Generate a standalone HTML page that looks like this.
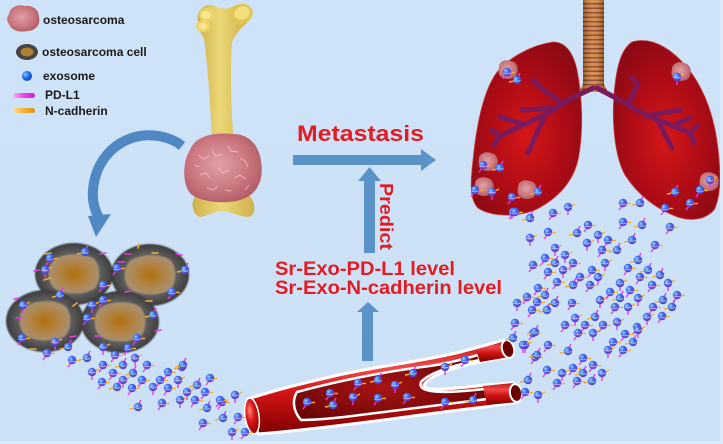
<!DOCTYPE html>
<html><head><meta charset="utf-8"><style>
html,body{margin:0;padding:0;background:#cde2f7;}
svg{display:block;}
</style></head><body>
<svg width="723" height="444" viewBox="0 0 723 444" xmlns="http://www.w3.org/2000/svg" xmlns:xlink="http://www.w3.org/1999/xlink">
<defs>
<linearGradient id="bg" x1="0" y1="0" x2="0" y2="1"><stop offset="0" stop-color="#cfe3f8"/><stop offset="1" stop-color="#cce1f6"/></linearGradient>
<radialGradient id="exg" cx="0.35" cy="0.35" r="0.75"><stop offset="0" stop-color="#a8d4ff"/><stop offset="0.4" stop-color="#3a6cf0"/><stop offset="1" stop-color="#6a2cb8"/></radialGradient>
<radialGradient id="exl" cx="0.35" cy="0.35" r="0.75"><stop offset="0" stop-color="#8fd0ff"/><stop offset="0.45" stop-color="#1f6ff5"/><stop offset="1" stop-color="#1d3ab0"/></radialGradient>
<g id="e"><line x1="2" y1="0.5" x2="8" y2="0.5" stroke="#f2b035" stroke-width="1.4"/><line x1="-1" y1="3" x2="-4" y2="7" stroke="#e23ee8" stroke-width="1.4"/><circle r="4.2" fill="url(#exg)"/><path d="M-3.5,1 Q0,2.6 3.5,1" stroke="#eab0f2" stroke-width="0.9" fill="none"/></g>
<g id="f"><line x1="-2" y1="1" x2="-8" y2="2" stroke="#f2b035" stroke-width="1.4"/><line x1="1" y1="-3" x2="3" y2="-7" stroke="#e23ee8" stroke-width="1.4"/><circle r="4.2" fill="url(#exg)"/><path d="M-3.5,0.5 Q0,2 3.5,0.5" stroke="#9ee0c0" stroke-width="0.9" fill="none"/></g>
<g id="g"><line x1="0" y1="3" x2="0" y2="8" stroke="#e23ee8" stroke-width="1.4"/><line x1="3" y1="-1" x2="7" y2="-3" stroke="#f2b035" stroke-width="1.4"/><circle r="4.2" fill="url(#exg)"/><path d="M-3.5,0 Q0,2 3.5,0" stroke="#f0c0f0" stroke-width="0.9" fill="none"/></g>
<radialGradient id="cellg" cx="0.5" cy="0.5" r="0.5"><stop offset="0" stop-color="#7a7a7a"/><stop offset="0.65" stop-color="#606060"/><stop offset="0.9" stop-color="#474747"/><stop offset="1" stop-color="#3a3a3a"/></radialGradient>
<radialGradient id="nucg" cx="0.5" cy="0.5" r="0.5"><stop offset="0" stop-color="#b0700c"/><stop offset="0.6" stop-color="#b08448"/><stop offset="1" stop-color="#a89070"/></radialGradient>
<filter id="soft" x="-10%" y="-10%" width="120%" height="120%"><feGaussianBlur stdDeviation="0.9"/></filter>
<g id="cell"><ellipse rx="39" ry="31" fill="url(#cellg)"/><path d="M-20,-14 C-10,-21 10,-22 20,-15 C27,-8 27,8 20,15 C10,21 -10,21 -20,14 C-27,7 -27,-7 -20,-14 Z" fill="url(#nucg)"/></g>
<linearGradient id="boneg" x1="0" y1="0" x2="1" y2="0"><stop offset="0" stop-color="#cdb04a"/><stop offset="0.45" stop-color="#ecd878"/><stop offset="1" stop-color="#cfb24c"/></linearGradient>
<radialGradient id="tumg" cx="0.45" cy="0.45" r="0.6"><stop offset="0" stop-color="#e0a0a6"/><stop offset="0.6" stop-color="#cc7880"/><stop offset="1" stop-color="#b05a66"/></radialGradient>
<radialGradient id="lg" cx="0.5" cy="0.55" r="0.6"><stop offset="0" stop-color="#d41818"/><stop offset="0.55" stop-color="#b00c16"/><stop offset="1" stop-color="#8c0a14"/></radialGradient>
<pattern id="tr" width="21" height="4.5" patternUnits="userSpaceOnUse"><rect width="21" height="4.5" fill="#d4843e"/><rect y="3" width="21" height="1.5" fill="#8e3c1e"/></pattern>
<linearGradient id="trs" x1="0" y1="0" x2="1" y2="0"><stop offset="0" stop-color="#000" stop-opacity="0.3"/><stop offset="0.5" stop-color="#fff" stop-opacity="0.1"/><stop offset="1" stop-color="#000" stop-opacity="0.3"/></linearGradient>
<linearGradient id="vg" x1="0" y1="0" x2="0" y2="1"><stop offset="0" stop-color="#c01818"/><stop offset="0.3" stop-color="#f04a4a"/><stop offset="0.55" stop-color="#d41515"/><stop offset="1" stop-color="#7e0000"/></linearGradient>
<radialGradient id="chg" cx="0.45" cy="0.5" r="0.6"><stop offset="0" stop-color="#a81414"/><stop offset="1" stop-color="#6a0404"/></radialGradient>
<radialGradient id="capg" cx="0.4" cy="0.35" r="0.7"><stop offset="0" stop-color="#ff8a8a"/><stop offset="0.4" stop-color="#e01a1a"/><stop offset="1" stop-color="#8a0000"/></radialGradient>
<linearGradient id="pd" x1="0" x2="1"><stop offset="0" stop-color="#ffb0ff"/><stop offset="0.5" stop-color="#f040f0"/><stop offset="1" stop-color="#d020d0"/></linearGradient>
<linearGradient id="nc" x1="0" x2="1"><stop offset="0" stop-color="#ffe0a0"/><stop offset="0.5" stop-color="#f5b030"/><stop offset="1" stop-color="#e09010"/></linearGradient>
<g id="nod"><path d="M-9,-3 C-9,-9 -2,-11 3,-9 C9,-8 11,-2 9,4 C7,9 0,10 -5,8 C-10,6 -10,1 -9,-3 Z" fill="url(#tumg)"/></g>
</defs>

<rect width="723" height="444" fill="url(#bg)"/>

<!-- Legend -->
<path d="M9,14 C10,7 18,4 25,6 C33,5 39,10 39,17 C41,25 35,31 27,31 C19,33 11,30 9,24 C6,20 7,17 9,14 Z" fill="url(#tumg)"/>
<ellipse cx="27" cy="52" rx="11" ry="8" fill="#444"/>
<ellipse cx="27" cy="52" rx="6.5" ry="4.5" fill="#b08030"/>
<circle cx="27" cy="76" r="5" fill="url(#exl)"/>
<rect x="13" y="93" width="22" height="5" rx="2.5" fill="url(#pd)"/>
<rect x="13" y="108" width="22" height="5" rx="2.5" fill="url(#nc)"/>
<g font-family="Liberation Sans, Arial, sans-serif" font-weight="bold" font-size="12" fill="#1a1a1a">
<text x="43" y="24">osteosarcoma</text>
<text x="42" y="56">osteosarcoma cell</text>
<text x="43" y="80">exosome</text>
<text x="45" y="99">PD-L1</text>
<text x="45" y="115">N-cadherin</text>
</g>

<!-- Bone -->
<path d="M199,12 C196,20 198,30 204,38 C208,70 211,110 212,146 L234,146 C231,110 230,72 232,42 C236,33 241,28 247,23 L236,5 C229,9 222,10 215,6 C209,3 202,6 199,12 Z" fill="url(#boneg)"/>
<ellipse cx="241" cy="14" rx="12" ry="10" transform="rotate(-20 241 14)" fill="#e0c655"/>
<ellipse cx="242" cy="13" rx="8" ry="6.5" transform="rotate(-20 242 13)" fill="#f2de7c"/>
<ellipse cx="207" cy="15" rx="8" ry="7" fill="#ead468"/>
<ellipse cx="203" cy="26" rx="7" ry="6" fill="#ecd66c"/>
<ellipse cx="206" cy="15" rx="5" ry="4" fill="#f7e690"/>
<ellipse cx="203" cy="26" rx="4" ry="3.5" fill="#f7e690"/>
<path d="M196,195 C190,203 192,214 200,217 C208,216 215,211 224,211 C232,212 240,217 249,217 C256,215 256,204 250,196 Z" fill="url(#boneg)"/>
<path d="M190,150 C195,136 214,132 232,134 C248,133 259,145 261,161 C264,179 258,195 240,200 C225,204 205,203 192,195 C182,187 182,162 190,150 Z" fill="url(#tumg)"/>
<g stroke="#f4c4c8" stroke-width="1" fill="none" opacity="0.8">
<path d="M198,155 l6,4 l5,-3 M212,150 l4,6 l6,-2 M228,146 l3,5 l7,1 M240,158 l5,3 l3,6 M200,175 l6,-2 l4,5 M218,168 l5,5 l6,-3 M235,178 l5,-3 l6,4 M207,188 l6,2 l5,-4 M225,190 l6,1 M245,190 l4,-5 M195,165 l4,2"/>
</g>

<!-- curved arrow -->
<path d="M182,146 C170,136 150,133 135,137 C110,144 95,165 93,190 C92,200 94,209 99,218" fill="none" stroke="#4f88c2" stroke-width="10"/>
<polygon points="88,216 111,214 96,237" fill="#4f88c2"/>

<!-- Cells -->
<g filter="url(#soft)">
<use href="#cell" x="74" y="274"/>
<use href="#cell" x="150" y="275"/>
<use href="#cell" x="45" y="321"/>
<use href="#cell" x="120" y="322"/>
</g>
<g stroke-width="1.6" stroke-linecap="round">
<line x1="45" y1="254" x2="51" y2="253" stroke="#f2b035"/><line x1="100" y1="254" x2="106" y2="253" stroke="#e23ee8"/>
<line x1="34" y1="271" x2="39" y2="270" stroke="#e23ee8"/><line x1="44" y1="280" x2="50" y2="278" stroke="#f2b035"/>
<line x1="125" y1="254" x2="131" y2="254" stroke="#e23ee8"/><line x1="152" y1="253" x2="158" y2="253" stroke="#f2b035"/>
<line x1="176" y1="254" x2="182" y2="255" stroke="#e23ee8"/><line x1="125" y1="292" x2="131" y2="291" stroke="#e23ee8"/>
<line x1="146" y1="301" x2="152" y2="301" stroke="#f2b035"/><line x1="14" y1="299" x2="19" y2="298" stroke="#e23ee8"/>
<line x1="16" y1="318" x2="22" y2="318" stroke="#e23ee8"/><line x1="73" y1="306" x2="77" y2="303" stroke="#f2b035"/>
<line x1="95" y1="336" x2="101" y2="336" stroke="#e23ee8"/><line x1="155" y1="331" x2="161" y2="330" stroke="#e23ee8"/>
<line x1="70" y1="337" x2="76" y2="336" stroke="#e23ee8"/><line x1="30" y1="349" x2="36" y2="349" stroke="#f2b035"/>
<line x1="118" y1="262" x2="124" y2="262" stroke="#e23ee8"/><line x1="138" y1="248" x2="139" y2="244" stroke="#f2b035"/>
</g>

<!-- Lungs -->
<path d="M583,0 L604,0 L604,84 L608,92 L579,92 L583,84 Z" fill="url(#tr)"/>
<rect x="583" y="0" width="21" height="90" fill="url(#trs)"/>
<path d="M553,42 C530,45 505,60 495,75 C482,95 476,130 473,160 C470,185 470,200 478,208 C490,216 515,218 535,210 C555,200 572,185 578,160 C584,130 582,95 577,70 C573,52 565,42 553,42 Z" fill="url(#lg)" stroke="#c84040" stroke-width="0.8"/>
<path d="M632,42 C645,38 660,42 675,55 C695,72 710,100 716,135 C721,165 722,195 714,210 C705,220 690,222 675,216 C655,208 638,195 625,175 C614,155 612,120 614,95 C616,70 620,50 632,42 Z" fill="url(#lg)" stroke="#c84040" stroke-width="0.8"/>
<g stroke="#7a1a5c" stroke-width="5" stroke-linecap="round" fill="none">
<path d="M593,88 L572,98 L548,113 L500,136"/>
<path d="M563,104 L540,87 M540,87 L533,80 M556,108 L522,110 M545,115 L528,153 M523,124 L500,117 M500,136 L492,130 M500,136 L494,145"/>
<path d="M597,88 L616,98 L640,112 L690,133"/>
<path d="M628,104 L638,84 M638,84 L632,78 M646,116 L680,110 M658,121 L672,148 M672,126 L690,118 M690,133 L697,126 M690,133 L694,143"/>
</g>
<use href="#nod" x="508" y="70"/><use href="#nod" x="681" y="72"/>
<use href="#nod" x="488" y="162"/><use href="#nod" x="484" y="187"/>
<use href="#nod" x="527" y="190"/><use href="#nod" x="709" y="182"/>

<!-- Arrows -->
<rect x="293" y="155" width="130" height="10" fill="#5b93c9"/>
<polygon points="421,149 436,160 421,171" fill="#5b93c9"/>
<rect x="364" y="180" width="11" height="73" fill="#5b93c9"/>
<polygon points="358,181 381,181 369.5,167" fill="#5b93c9"/>
<rect x="362" y="311" width="11" height="50" fill="#5b93c9"/>
<polygon points="357,312 379,312 368,302" fill="#5b93c9"/>

<!-- Texts -->
<g font-family="Liberation Sans, Arial, sans-serif" font-weight="bold" fill="#e31b23">
<text x="297" y="141" font-size="22" textLength="127" lengthAdjust="spacingAndGlyphs">Metastasis</text>
<text x="275" y="275" font-size="19" textLength="180" lengthAdjust="spacingAndGlyphs">Sr-Exo-PD-L1 level</text>
<text x="275" y="294" font-size="19" textLength="227" lengthAdjust="spacingAndGlyphs">Sr-Exo-N-cadherin level</text>
<text transform="translate(380,183) rotate(90)" font-size="18" textLength="67" lengthAdjust="spacingAndGlyphs">Predict</text>
</g>

<!-- Vessel -->
<path d="M248,399 C275,390 300,384 330,377 C370,367 420,362 460,352 L505,340 L510,357 L480,362 C455,367 430,375 424,385 C425,392 450,389 485,385 L513,383 L518,402 L485,407 C440,412 400,418 360,423 C320,428 285,432 258,434 Z" fill="url(#vg)" stroke="#fff" stroke-width="3" stroke-linejoin="round"/>
<path d="M297,392 C330,383 380,372 430,366 C450,363 468,358 478,355 L480,360 C455,365 430,372 421,382 C417,393 440,394 485,389 L487,399 C440,405 400,410 360,415 C330,419 312,420 301,420 C293,411 292,400 297,392 Z" fill="url(#chg)" stroke="#fff" stroke-width="2.5"/>
<path d="M476,350 L505,341 L510,357 L480,362 Z" fill="url(#vg)"/>
<path d="M483,386 L513,383 L518,402 L487,405 Z" fill="url(#vg)"/>
<ellipse cx="508" cy="349" rx="6" ry="9" fill="#6a0000" stroke="#fff" stroke-width="2" transform="rotate(-15 508 349)"/>
<ellipse cx="516" cy="393" rx="6" ry="9" fill="#6a0000" stroke="#fff" stroke-width="2" transform="rotate(-10 516 393)"/>
<ellipse cx="252" cy="416" rx="7" ry="18" fill="url(#capg)" stroke="#fff" stroke-width="1.5" transform="rotate(-8 252 416)"/>

<!-- Exosomes -->
<g>
<use href="#e" x="50" y="258"/><use href="#f" x="85" y="252"/><use href="#g" x="45" y="270"/><use href="#e" x="103" y="285"/><use href="#f" x="60" y="295"/><use href="#e" x="103" y="300"/><use href="#g" x="92" y="305"/><use href="#e" x="117" y="268"/><use href="#f" x="185" y="270"/><use href="#e" x="172" y="292"/><use href="#g" x="23" y="305"/><use href="#e" x="87" y="318"/><use href="#f" x="153" y="315"/><use href="#e" x="22" y="338"/><use href="#g" x="55" y="342"/><use href="#e" x="137" y="338"/><use href="#f" x="68" y="347"/><use href="#e" x="47" y="353"/><use href="#g" x="103" y="347"/><use href="#e" x="128" y="348"/>
<use href="#e" x="72" y="360"/><use href="#f" x="87" y="358"/><use href="#e" x="115" y="355"/><use href="#g" x="135" y="358"/><use href="#e" x="103" y="365"/><use href="#f" x="123" y="365"/><use href="#e" x="147" y="365"/><use href="#g" x="92" y="372"/><use href="#e" x="113" y="373"/><use href="#f" x="133" y="373"/><use href="#e" x="102" y="382"/><use href="#g" x="123" y="380"/><use href="#e" x="142" y="380"/><use href="#f" x="117" y="387"/><use href="#e" x="132" y="388"/><use href="#g" x="153" y="387"/><use href="#e" x="168" y="372"/><use href="#f" x="182" y="367"/><use href="#e" x="160" y="380"/><use href="#g" x="178" y="380"/><use href="#e" x="168" y="388"/><use href="#f" x="197" y="385"/><use href="#e" x="210" y="378"/><use href="#g" x="187" y="392"/><use href="#e" x="205" y="392"/><use href="#f" x="138" y="407"/><use href="#e" x="162" y="403"/><use href="#g" x="180" y="400"/><use href="#e" x="195" y="400"/><use href="#f" x="207" y="408"/><use href="#e" x="222" y="402"/><use href="#g" x="235" y="395"/><use href="#e" x="203" y="423"/><use href="#f" x="223" y="418"/><use href="#e" x="238" y="417"/><use href="#g" x="232" y="432"/><use href="#e" x="245" y="432"/><use href="#f" x="183" y="365"/><use href="#e" x="220" y="400"/>
<use href="#e" x="307" y="402"/><use href="#f" x="333" y="405"/><use href="#e" x="330" y="393"/><use href="#g" x="353" y="397"/><use href="#e" x="358" y="383"/><use href="#f" x="378" y="380"/><use href="#e" x="378" y="398"/><use href="#g" x="395" y="385"/><use href="#e" x="407" y="397"/><use href="#f" x="413" y="373"/><use href="#e" x="445" y="402"/><use href="#g" x="445" y="367"/><use href="#e" x="465" y="360"/><use href="#f" x="473" y="400"/>
<use href="#e" x="515" y="323"/><use href="#f" x="513" y="338"/><use href="#e" x="533" y="333"/><use href="#g" x="525" y="345"/><use href="#e" x="535" y="357"/><use href="#f" x="528" y="380"/><use href="#e" x="525" y="392"/><use href="#g" x="538" y="395"/>
<use href="#e" x="513" y="212"/><use href="#f" x="530" y="218"/><use href="#e" x="553" y="213"/><use href="#g" x="568" y="207"/><use href="#e" x="623" y="203"/><use href="#f" x="640" y="203"/><use href="#e" x="665" y="208"/><use href="#g" x="530" y="238"/><use href="#e" x="548" y="232"/><use href="#f" x="577" y="233"/><use href="#e" x="588" y="225"/><use href="#g" x="598" y="235"/><use href="#e" x="623" y="222"/><use href="#f" x="642" y="225"/><use href="#e" x="670" y="227"/><use href="#g" x="587" y="243"/><use href="#e" x="608" y="240"/><use href="#f" x="632" y="240"/><use href="#e" x="655" y="245"/><use href="#g" x="555" y="248"/><use href="#e" x="602" y="250"/><use href="#f" x="617" y="250"/><use href="#e" x="545" y="258"/><use href="#g" x="565" y="255"/><use href="#e" x="533" y="265"/><use href="#f" x="555" y="263"/><use href="#e" x="573" y="263"/><use href="#g" x="605" y="263"/><use href="#e" x="628" y="268"/><use href="#f" x="638" y="260"/><use href="#e" x="548" y="272"/><use href="#g" x="563" y="270"/><use href="#e" x="592" y="270"/><use href="#f" x="648" y="270"/><use href="#e" x="580" y="277"/><use href="#g" x="598" y="277"/><use href="#e" x="557" y="282"/><use href="#f" x="573" y="285"/><use href="#e" x="590" y="285"/><use href="#g" x="620" y="283"/><use href="#e" x="640" y="277"/><use href="#f" x="660" y="275"/><use href="#e" x="652" y="285"/><use href="#g" x="668" y="283"/><use href="#e" x="538" y="288"/><use href="#f" x="545" y="295"/><use href="#e" x="527" y="297"/><use href="#g" x="517" y="303"/><use href="#e" x="537" y="302"/><use href="#f" x="555" y="303"/><use href="#e" x="572" y="303"/><use href="#g" x="600" y="300"/><use href="#e" x="610" y="292"/><use href="#f" x="620" y="298"/><use href="#e" x="630" y="290"/><use href="#g" x="638" y="298"/><use href="#e" x="532" y="310"/><use href="#f" x="547" y="310"/><use href="#e" x="615" y="307"/><use href="#g" x="628" y="307"/><use href="#e" x="653" y="307"/><use href="#f" x="663" y="300"/><use href="#e" x="677" y="295"/><use href="#g" x="647" y="317"/><use href="#e" x="662" y="316"/><use href="#f" x="672" y="307"/><use href="#e" x="565" y="325"/><use href="#g" x="575" y="318"/><use href="#e" x="585" y="325"/><use href="#f" x="595" y="317"/><use href="#e" x="603" y="325"/><use href="#g" x="617" y="322"/><use href="#e" x="637" y="327"/><use href="#f" x="535" y="332"/><use href="#e" x="578" y="333"/><use href="#g" x="593" y="333"/><use href="#e" x="625" y="334"/><use href="#f" x="633" y="342"/><use href="#e" x="613" y="342"/><use href="#g" x="523" y="345"/><use href="#e" x="548" y="345"/><use href="#f" x="568" y="351"/><use href="#e" x="583" y="358"/><use href="#g" x="608" y="350"/><use href="#e" x="623" y="350"/><use href="#f" x="537" y="355"/><use href="#e" x="547" y="370"/><use href="#g" x="562" y="373"/><use href="#e" x="573" y="368"/><use href="#f" x="583" y="373"/><use href="#e" x="593" y="365"/><use href="#g" x="602" y="373"/><use href="#e" x="577" y="381"/><use href="#f" x="592" y="381"/><use href="#e" x="557" y="383"/><use href="#g" x="638" y="330"/>
<use href="#e" x="507" y="72"/><use href="#f" x="517" y="80"/><use href="#g" x="677" y="77"/><use href="#e" x="483" y="165"/><use href="#f" x="500" y="168"/><use href="#e" x="475" y="190"/><use href="#g" x="492" y="192"/><use href="#e" x="512" y="197"/><use href="#f" x="538" y="192"/><use href="#e" x="515" y="212"/><use href="#g" x="710" y="180"/><use href="#e" x="700" y="190"/><use href="#f" x="675" y="192"/><use href="#e" x="690" y="203"/>
</g>
<rect x="720" y="0" width="3" height="444" fill="#dceaf9"/>
<rect x="0" y="441" width="723" height="3" fill="#dceaf9"/>
</svg>
</body></html>
